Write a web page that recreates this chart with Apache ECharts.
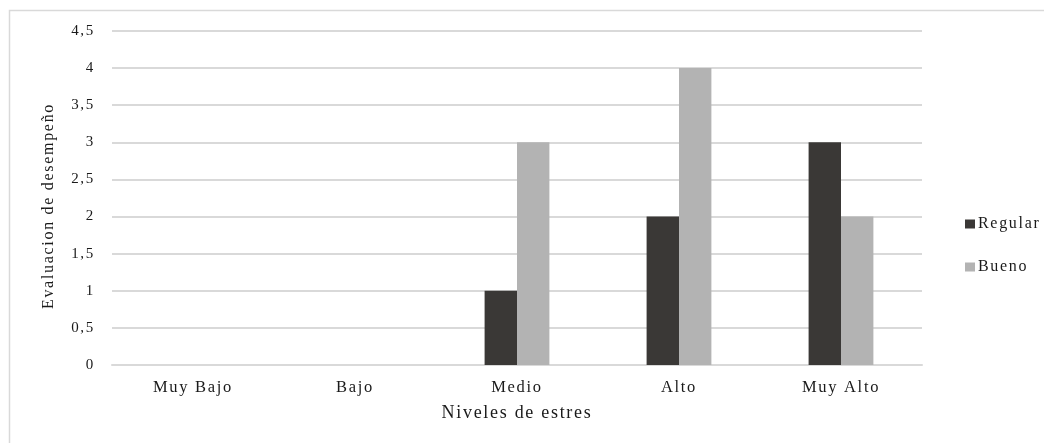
<!DOCTYPE html>
<html>
<head>
<meta charset="utf-8">
<script src="https://cdn.jsdelivr.net/npm/echarts@6/dist/echarts.min.js"></script>
<style>
  html, body { margin: 0; padding: 0; background: #ffffff; }
  #chart { width: 1044px; height: 443px; }
</style>
</head>
<body>
<div id="chart"></div>
<script>
// Stress levels on the x axis
const categories = ['Muy Bajo', 'Bajo', 'Medio', 'Alto', 'Muy Alto'];
// Counts per performance rating
const regular = [0, 0, 1, 2, 3];
const bueno = [0, 0, 3, 4, 2];
// Y axis scale
const yMin = 0;
const yMax = 4.5;
const yStep = 0.5;

// Wide, airy serif lettering: add tracking to every label drawn on the canvas
const tracking = '1.7px';
const baseFillText = CanvasRenderingContext2D.prototype.fillText;
CanvasRenderingContext2D.prototype.fillText = function (...args) {
  this.letterSpacing = tracking;
  return baseFillText.apply(this, args);
};

const serif = '"Liberation Serif", "DejaVu Serif", serif';
const ink = '#1a1a1a';

const chart = echarts.init(document.getElementById('chart'), null, { renderer: 'canvas' });

chart.setOption({
  backgroundColor: '#ffffff',
  animation: false,
  textStyle: { fontFamily: serif },
  graphic: [
    {
      type: 'rect',
      shape: { x: 9.5, y: 10.5, width: 1100, height: 500 },
      style: { fill: 'none', stroke: '#d9d9d9', lineWidth: 1.5 },
      silent: true
    },
    {
      type: 'text',
      x: 49,
      y: 206,
      rotation: Math.PI / 2,
      style: {
        text: 'Evaluacion de desempeño',
        font: '16px ' + serif,
        fill: ink,
        textAlign: 'center',
        textVerticalAlign: 'middle'
      },
      silent: true
    }
  ],
  grid: { left: 112, right: 122, top: 31, bottom: 78 },
  legend: {
    orient: 'vertical',
    left: 965,
    top: 216,
    padding: 0,
    itemGap: 27,
    itemWidth: 10,
    itemHeight: 9,
    icon: 'rect',
    textStyle: { fontFamily: serif, fontSize: 16, color: ink, padding: [0, 0, 0, -2] },
    data: ['Regular', 'Bueno']
  },
  xAxis: {
    type: 'category',
    data: categories,
    name: 'Niveles de estres',
    nameLocation: 'middle',
    nameGap: 39,
    nameTextStyle: { fontFamily: serif, fontSize: 18, color: ink },
    axisLine: { show: true, lineStyle: { color: '#d9d9d9', width: 2 } },
    axisTick: { show: false },
    axisLabel: { fontFamily: serif, fontSize: 16.5, color: ink, margin: 14 }
  },
  yAxis: {
    type: 'value',
    min: yMin,
    max: yMax,
    interval: yStep,
    axisLine: { show: false },
    axisTick: { show: false },
    axisLabel: {
      fontFamily: serif,
      fontSize: 15,
      color: ink,
      margin: 17,
      formatter: v => String(v).replace('.', ',')
    },
    splitLine: { lineStyle: { color: '#d9d9d9', width: 2 } }
  },
  series: [
    {
      name: 'Regular',
      type: 'bar',
      data: regular,
      barGap: '0%',
      barCategoryGap: '60%',
      itemStyle: { color: '#3a3836' }
    },
    {
      name: 'Bueno',
      type: 'bar',
      data: bueno,
      itemStyle: { color: '#b3b3b3' }
    }
  ]
});
</script>
</body>
</html>
